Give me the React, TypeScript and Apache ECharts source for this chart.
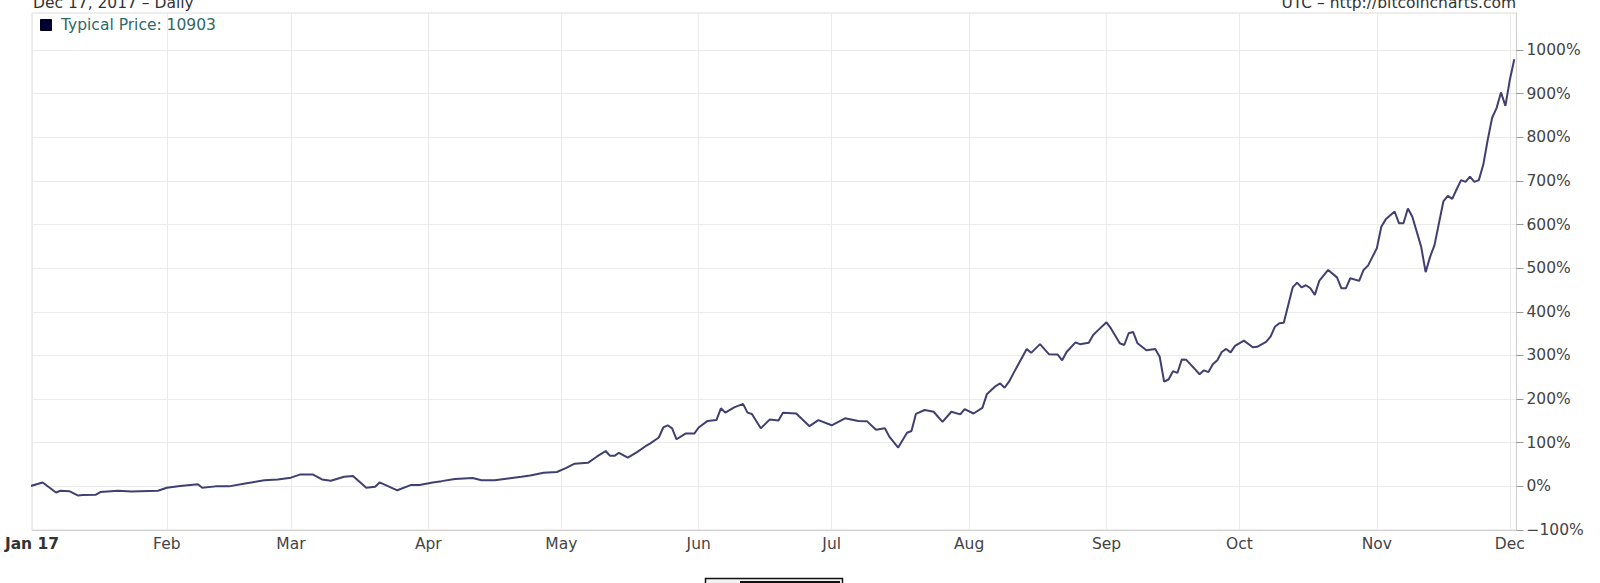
import React, { useEffect, useRef } from 'react';
import * as echarts from 'echarts';

const FONT = '"DejaVu Sans", sans-serif';

const dates = [
  '2017-01-01', '2017-01-04', '2017-01-07', '2017-01-08', '2017-01-10', '2017-01-12', '2017-01-13', '2017-01-16',
  '2017-01-17', '2017-01-21', '2017-01-24', '2017-01-30', '2017-02-01', '2017-02-04', '2017-02-08', '2017-02-09',
  '2017-02-12', '2017-02-15', '2017-02-19', '2017-02-23', '2017-02-26', '2017-03-01', '2017-03-03', '2017-03-06',
  '2017-03-08', '2017-03-10', '2017-03-13', '2017-03-15', '2017-03-18', '2017-03-20', '2017-03-21', '2017-03-23',
  '2017-03-25', '2017-03-28', '2017-03-30', '2017-04-02', '2017-04-04', '2017-04-07', '2017-04-11', '2017-04-13',
  '2017-04-16', '2017-04-19', '2017-04-22', '2017-04-24', '2017-04-27', '2017-04-30', '2017-05-02', '2017-05-04',
  '2017-05-07', '2017-05-09', '2017-05-11', '2017-05-12', '2017-05-13', '2017-05-14', '2017-05-16', '2017-05-18',
  '2017-05-20', '2017-05-21', '2017-05-23', '2017-05-24', '2017-05-25', '2017-05-26', '2017-05-27', '2017-05-29',
  '2017-05-31', '2017-06-01', '2017-06-03', '2017-06-05', '2017-06-06', '2017-06-07', '2017-06-09', '2017-06-11',
  '2017-06-12', '2017-06-13', '2017-06-15', '2017-06-17', '2017-06-19', '2017-06-20', '2017-06-23', '2017-06-26',
  '2017-06-28', '2017-07-01', '2017-07-04', '2017-07-07', '2017-07-09', '2017-07-11', '2017-07-13', '2017-07-14',
  '2017-07-16', '2017-07-18', '2017-07-19', '2017-07-20', '2017-07-22', '2017-07-24', '2017-07-26', '2017-07-28',
  '2017-07-30', '2017-07-31', '2017-08-02', '2017-08-04', '2017-08-05', '2017-08-07', '2017-08-08', '2017-08-09',
  '2017-08-10', '2017-08-11', '2017-08-14', '2017-08-15', '2017-08-17', '2017-08-19', '2017-08-21', '2017-08-22',
  '2017-08-23', '2017-08-25', '2017-08-26', '2017-08-28', '2017-08-29', '2017-08-30', '2017-09-01', '2017-09-02',
  '2017-09-04', '2017-09-05', '2017-09-06', '2017-09-07', '2017-09-08', '2017-09-10', '2017-09-12', '2017-09-13',
  '2017-09-14', '2017-09-15', '2017-09-16', '2017-09-17', '2017-09-18', '2017-09-19', '2017-09-21', '2017-09-22',
  '2017-09-23', '2017-09-24', '2017-09-25', '2017-09-26', '2017-09-27', '2017-09-28', '2017-09-29', '2017-09-30',
  '2017-10-02', '2017-10-04', '2017-10-05', '2017-10-07', '2017-10-08', '2017-10-09', '2017-10-10', '2017-10-11',
  '2017-10-13', '2017-10-14', '2017-10-15', '2017-10-16', '2017-10-17', '2017-10-18', '2017-10-19', '2017-10-21',
  '2017-10-23', '2017-10-24', '2017-10-25', '2017-10-26', '2017-10-28', '2017-10-29', '2017-10-30', '2017-10-31',
  '2017-11-01', '2017-11-02', '2017-11-03', '2017-11-05', '2017-11-06', '2017-11-07', '2017-11-08', '2017-11-09',
  '2017-11-11', '2017-11-12', '2017-11-13', '2017-11-14', '2017-11-15', '2017-11-16', '2017-11-17', '2017-11-18',
  '2017-11-19', '2017-11-20', '2017-11-21', '2017-11-22', '2017-11-23', '2017-11-24', '2017-11-25', '2017-11-26',
  '2017-11-27', '2017-11-28', '2017-11-29', '2017-11-30', '2017-12-01', '2017-12-02',
];

const values = [
  0, 9, -14, -10, -11, -21, -20, -19,
  -13, -10, -12, -10, -3, 1, 5, -3,
  0, 0, 7, 14, 16, 20, 27, 27,
  16, 13, 22, 24, -3, -1, 9, 0,
  -9, 3, 3, 9, 12, 17, 19, 14,
  14, 18, 22, 25, 31, 33, 42, 52,
  54, 68, 81, 70, 70, 77, 66, 78,
  92, 98, 112, 135, 140, 133, 108, 121,
  121, 135, 150, 152, 179, 169, 181, 189,
  169, 166, 133, 153, 151, 169, 167, 138,
  152, 140, 156, 150, 149, 130, 133, 114,
  89, 123, 127, 166, 175, 171, 148, 171,
  165, 177, 167, 180, 211, 230, 236, 226,
  240, 259, 315, 306, 326, 303, 302, 289,
  308, 330, 326, 329, 347, 357, 376, 362,
  328, 324, 351, 354, 328, 312, 315, 297,
  240, 245, 264, 260, 291, 290, 268, 257,
  266, 262, 280, 289, 308, 315, 307, 322,
  334, 319, 320, 331, 343, 366, 374, 375,
  456, 467, 456, 461, 454, 439, 471, 496,
  479, 454, 454, 477, 471, 496, 506, 526,
  546, 595, 612, 630, 603, 603, 637, 618,
  549, 491, 526, 553, 603, 653, 666, 659,
  681, 702, 698, 710, 698, 702, 737, 794,
  845, 867, 903, 872, 932, 979,
];

const monthStarts = [
  '2017-02-01', '2017-03-01', '2017-04-01', '2017-05-01', '2017-06-01', '2017-07-01',
  '2017-08-01', '2017-09-01', '2017-10-01', '2017-11-01', '2017-12-01',
];
const monthLabels = ['Feb', 'Mar', 'Apr', 'May', 'Jun', 'Jul', 'Aug', 'Sep', 'Oct', 'Nov', 'Dec'];
const firstLabel = 'Jan 17';
const yTicks = [-100, 0, 100, 200, 300, 400, 500, 600, 700, 800, 900, 1000];

const toTs = (s: string) => {
  const [y, m, d] = s.split('-').map(Number);
  return new Date(y, m - 1, d).getTime();
};

export default function App() {
  const ref = useRef<HTMLDivElement>(null);

  useEffect(() => {
    const chart = echarts.init(ref.current!, null, { renderer: 'svg' });
    const xMin = new Date(2017, 0, 1, 14).getTime();
    const xMax = new Date(2017, 11, 2, 12).getTime();
    const monthTs = monthStarts.map(toTs);
    const xTickVals = [xMin, ...monthTs];

    const option: any = {
      animation: false,
      backgroundColor: '#ffffff',
      grid: {
        left: 32,
        right: 83.5,
        top: 13,
        bottom: 53,
        show: true,
        borderColor: '#dcdcdc',
        borderWidth: 1,
        backgroundColor: 'transparent',
      },
      xAxis: {
        type: 'value',
        min: xMin,
        max: xMax,
        axisLine: { show: true, onZero: false, lineStyle: { color: '#cfcfcf', width: 1 } },
        axisTick: { show: false, customValues: xTickVals },
        splitLine: { show: true, lineStyle: { color: '#ebebeb', width: 1 } },
        axisLabel: {
          customValues: xTickVals,
          margin: 6,
          color: '#444',
          fontFamily: FONT,
          fontSize: 15.5,
          formatter: (val: number) => {
            if (val <= xMin + 1000) return '{b|' + firstLabel + '}';
            const idx = monthTs.indexOf(val);
            return idx >= 0 ? monthLabels[idx] : monthLabels[new Date(val).getMonth() - 1];
          },
          rich: {
            b: { fontFamily: FONT, fontSize: 15.5, fontWeight: 'bold', color: '#333' },
          },
        },
      },
      yAxis: {
        type: 'value',
        position: 'right',
        min: -100,
        max: 1085,
        axisLine: { show: true, onZero: false, lineStyle: { color: '#cfcfcf', width: 1 } },
        axisTick: { show: true, length: 7, customValues: yTicks, lineStyle: { color: '#999' } },
        splitLine: { show: true, lineStyle: { color: '#ebebeb', width: 1 } },
        axisLabel: {
          customValues: yTicks,
          margin: 10,
          color: '#444',
          fontFamily: FONT,
          fontSize: 15.5,
          formatter: (v: number) => (v < 0 ? '\u2212' + Math.abs(v) : String(v)) + '%',
        },
      },
      series: [
        {
          type: 'line',
          name: 'Typical Price',
          data: dates.map((d, i) => [toTs(d), values[i]]),
          showSymbol: false,
          symbol: 'none',
          clip: true,
          lineStyle: { color: '#403f70', width: 2 },
        },
      ],
      graphic: [
        {
          type: 'text',
          left: 33,
          top: -5,
          style: { text: 'Dec 17, 2017 \u2013 Daily', fill: '#333', font: '15.5px "DejaVu Sans", sans-serif' },
        },
        {
          type: 'text',
          right: 84,
          top: -5,
          style: { text: 'UTC \u2013 http://bitcoincharts.com', fill: '#333', font: '15.5px "DejaVu Sans", sans-serif' },
        },
        {
          type: 'rect',
          shape: { x: 40.5, y: 19.5, width: 11, height: 11 },
          style: { fill: '#000033', stroke: '#000022', lineWidth: 1 },
        },
        {
          type: 'text',
          left: 61,
          top: 17,
          style: { text: 'Typical Price: 10903', fill: '#2f6868', font: '15.5px "DejaVu Sans", sans-serif' },
        },
        {
          type: 'rect',
          shape: { x: 705.5, y: 578.5, width: 137, height: 12 },
          style: { fill: '#f2f2f2', stroke: '#111', lineWidth: 1.5 },
        },
        {
          type: 'rect',
          shape: { x: 740, y: 581, width: 100, height: 6 },
          style: { fill: '#111', stroke: null },
        },
      ],
    };

    chart.setOption(option);
    return () => chart.dispose();
  }, []);

  return (
    <div
      ref={ref}
      style={{ position: 'absolute', left: 0, top: 0, width: 1600, height: 583, background: '#fff' }}
    />
  );
}
